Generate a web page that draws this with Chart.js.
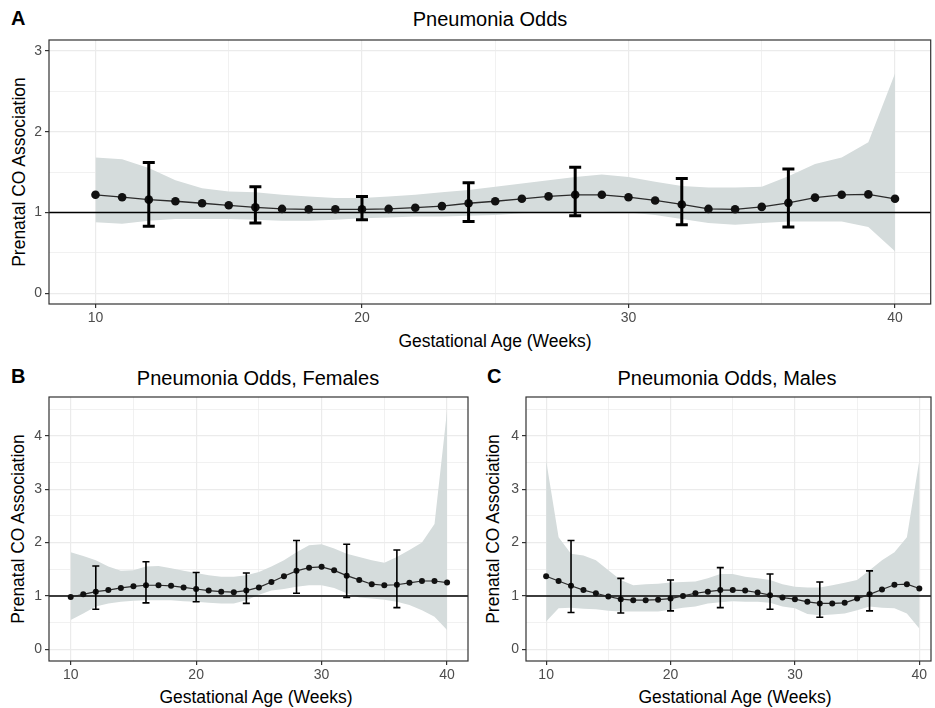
<!DOCTYPE html>
<html>
<head>
<meta charset="utf-8">
<script src="https://cdn.jsdelivr.net/npm/chart.js@4.4.0/dist/chart.umd.min.js"></script>
<style>
body { margin: 0; background: #fff; width: 935px; height: 708px; position: relative; overflow: hidden;
       font-family: "Liberation Sans", Arial, sans-serif; }
.box { position: absolute; }
.txt { position: absolute; white-space: nowrap; color: #000; transform: translate(-50%, -50%); }
.rot { transform: translate(-50%, -50%) rotate(-90deg); }
.lbl { position: absolute; font-weight: bold; font-size: 20px; color: #000; }
</style>
</head>
<body>

<div class="lbl" style="left:11px;top:7px">A</div>
<div class="txt" style="left:490px;top:19px;font-size:20px">Pneumonia Odds</div>
<div class="txt rot" style="left:19px;top:172px;font-size:17.5px">Prenatal CO Association</div>
<div class="txt" style="left:495px;top:341px;font-size:17.5px">Gestational Age (Weeks)</div>
<div class="box" style="left:0;top:0"><canvas id="grafA" width="935" height="360"></canvas></div>

<div class="lbl" style="left:11px;top:365px">B</div>
<div class="txt" style="left:258px;top:378px;font-size:20px">Pneumonia Odds, Females</div>
<div class="txt rot" style="left:18px;top:529px;font-size:17.5px">Prenatal CO Association</div>
<div class="txt" style="left:256px;top:697px;font-size:17.5px">Gestational Age (Weeks)</div>
<div class="box" style="left:0;top:360px"><canvas id="grafB" width="480" height="348"></canvas></div>

<div class="lbl" style="left:487px;top:365px">C</div>
<div class="txt" style="left:727px;top:378px;font-size:20px">Pneumonia Odds, Males</div>
<div class="txt rot" style="left:493px;top:529px;font-size:17.5px">Prenatal CO Association</div>
<div class="txt" style="left:735px;top:697px;font-size:17.5px">Gestational Age (Weeks)</div>
<div class="box" style="left:480px;top:360px"><canvas id="grafC" width="455" height="348"></canvas></div>

<script>
// semanas gestacionais
const semanas = [10,11,12,13,14,15,16,17,18,19,20,21,22,23,24,25,26,27,28,29,30,31,32,33,34,35,36,37,38,39,40];
const semanasErro = [12,16,20,24,28,32,36];

// A - todos
const mediaA = [1.22,1.19,1.16,1.14,1.115,1.09,1.065,1.045,1.04,1.04,1.04,1.045,1.06,1.08,1.115,1.14,1.17,1.2,1.22,1.22,1.19,1.15,1.1,1.045,1.04,1.07,1.12,1.185,1.22,1.225,1.17];
const bandaSupA = [1.68,1.66,1.55,1.40,1.30,1.26,1.25,1.22,1.2,1.18,1.18,1.2,1.22,1.25,1.28,1.32,1.36,1.40,1.44,1.47,1.44,1.38,1.33,1.31,1.31,1.32,1.45,1.6,1.68,1.87,2.72];
const bandaInfA = [0.88,0.86,0.9,0.92,0.92,0.92,0.91,0.9,0.9,0.91,0.93,0.94,0.95,0.95,0.96,0.97,0.99,1.0,1.01,1.01,1.0,0.97,0.92,0.87,0.85,0.87,0.89,0.89,0.89,0.82,0.52];
const erroSupA = [1.62,1.32,1.2,1.37,1.56,1.42,1.54];
const erroInfA = [0.83,0.87,0.91,0.89,0.96,0.85,0.82];

// B - meninas
const mediaB = [0.98,1.03,1.08,1.11,1.15,1.18,1.2,1.2,1.19,1.16,1.13,1.1,1.08,1.07,1.1,1.16,1.26,1.37,1.47,1.53,1.545,1.48,1.38,1.3,1.22,1.2,1.21,1.245,1.28,1.28,1.25];
const bandaSupB = [1.82,1.75,1.67,1.55,1.47,1.48,1.55,1.56,1.52,1.47,1.43,1.39,1.36,1.36,1.39,1.45,1.55,1.67,1.82,1.95,1.97,1.89,1.79,1.73,1.67,1.62,1.73,1.86,2.0,2.35,4.47];
const bandaInfB = [0.55,0.67,0.8,0.86,0.89,0.91,0.92,0.92,0.92,0.9,0.89,0.87,0.86,0.86,0.92,1.02,1.1,1.13,1.17,1.2,1.2,1.15,1.05,0.97,0.95,0.93,0.89,0.83,0.73,0.61,0.36];
const erroSupB = [1.56,1.64,1.44,1.43,2.04,1.97,1.86];
const erroInfB = [0.75,0.87,0.89,0.86,1.05,0.97,0.78];

// C - meninos
const mediaC = [1.37,1.28,1.19,1.11,1.05,0.99,0.94,0.92,0.92,0.93,0.95,1.0,1.05,1.08,1.11,1.11,1.1,1.065,1.015,0.97,0.94,0.89,0.86,0.86,0.87,0.95,1.03,1.12,1.21,1.22,1.14];
const bandaSupC = [3.54,2.1,1.79,1.76,1.67,1.48,1.3,1.2,1.22,1.23,1.25,1.26,1.27,1.33,1.41,1.41,1.36,1.33,1.3,1.22,1.17,1.16,1.16,1.2,1.245,1.3,1.48,1.67,1.82,2.1,3.54];
const bandaInfC = [0.52,0.77,0.78,0.76,0.75,0.72,0.71,0.71,0.71,0.71,0.74,0.78,0.8,0.86,0.88,0.9,0.89,0.89,0.87,0.8,0.77,0.66,0.64,0.65,0.67,0.73,0.8,0.78,0.77,0.67,0.39];
const erroSupC = [2.04,1.33,1.3,1.53,1.41,1.26,1.47];
const erroInfC = [0.69,0.68,0.72,0.78,0.75,0.6,0.72];

// eixos
const ticksX = [10,15,20,25,30,35,40];
const ticksXMaior = [10,20,30,40];
const ticksYA = [0,0.5,1,1.5,2,2.5,3];
const ticksYBC = [0,0.5,1,1.5,2,2.5,3,3.5,4,4.5];
const linhaReferencia = 1;

Chart.defaults.font.family = '"Liberation Sans", Arial, sans-serif';
Chart.defaults.animation = false;

function pontos(ys) {
    return semanas.map((s, i) => ({ x: s, y: ys[i] }));
}

// linha horizontal em 1, desenhada logo depois da faixa
const pluginReferencia = {
    id: 'referencia',
    afterDatasetDraw(chart, args) {
        if (args.index !== 1) return;
        const { ctx, chartArea, scales } = chart;
        const py = scales.y.getPixelForValue(linhaReferencia);
        ctx.save();
        ctx.strokeStyle = '#000';
        ctx.lineWidth = 1.4;
        ctx.beginPath();
        ctx.moveTo(chartArea.left, py);
        ctx.lineTo(chartArea.right, py);
        ctx.stroke();
        ctx.restore();
    }
};

const pluginErro = {
    id: 'barrasErro',
    afterDatasetsDraw(chart, args, opts) {
        const { ctx, scales } = chart;
        ctx.save();
        ctx.strokeStyle = '#000';
        ctx.lineWidth = opts.largura;
        ctx.lineCap = 'butt';
        semanasErro.forEach((s, i) => {
            const px = scales.x.getPixelForValue(s);
            const topo = scales.y.getPixelForValue(opts.sup[i]);
            const base = scales.y.getPixelForValue(opts.inf[i]);
            const m = opts.cap / 2;
            ctx.beginPath();
            ctx.moveTo(px, topo); ctx.lineTo(px, base);
            ctx.moveTo(px - m, topo); ctx.lineTo(px + m, topo);
            ctx.moveTo(px - m, base); ctx.lineTo(px + m, base);
            ctx.stroke();
        });
        ctx.restore();
    }
};

const pluginMoldura = {
    id: 'moldura',
    afterDatasetsDraw(chart) {
        const { ctx, chartArea } = chart;
        ctx.save();
        ctx.strokeStyle = '#333333';
        ctx.lineWidth = 1.2;
        ctx.strokeRect(chartArea.left, chartArea.top, chartArea.right - chartArea.left, chartArea.bottom - chartArea.top);
        ctx.restore();
    }
};

function criaGrafico(id, c) {
    const ctx = document.getElementById(id).getContext('2d');
    return new Chart(ctx, {
        type: 'line',
        data: {
            datasets: [
                { data: pontos(c.inf), borderWidth: 0, pointRadius: 0, fill: false, order: 3 },
                { data: pontos(c.sup), borderWidth: 0, pointRadius: 0, fill: '-1', backgroundColor: '#D5DCDC', order: 2 },
                {
                    data: pontos(c.media),
                    order: 1,
                    borderColor: '#2b2b2b',
                    borderWidth: c.linha,
                    tension: 0,
                    pointRadius: c.raio,
                    pointBackgroundColor: '#111',
                    pointBorderColor: '#111',
                    pointBorderWidth: 0,
                    fill: false
                }
            ]
        },
        options: {
            responsive: false,
            layout: { padding: c.padding },
            plugins: {
                legend: { display: false },
                tooltip: { enabled: false },
                barrasErro: { sup: c.erroSup, inf: c.erroInf, largura: c.erroLarg, cap: c.cap }
            },
            scales: {
                x: {
                    type: 'linear',
                    min: c.xMin, max: c.xMax,
                    afterBuildTicks: s => { s.ticks = ticksX.map(v => ({ value: v })); },
                    afterFit: s => { s.height = c.alturaX; },
                    ticks: {
                        autoSkip: false, maxRotation: 0, padding: 2,
                        color: '#4D4D4D', font: { size: 14 },
                        callback: v => ticksXMaior.includes(v) ? String(v) : ''
                    },
                    grid: {
                        color: '#EBEBEB',
                        lineWidth: k => ticksXMaior.includes(k.tick && k.tick.value) ? 1.2 : 0.7,
                        tickColor: k => ticksXMaior.includes(k.tick && k.tick.value) ? '#333' : 'rgba(0,0,0,0)',
                        tickWidth: 1.2, tickLength: 4
                    },
                    border: { display: false }
                },
                y: {
                    type: 'linear',
                    min: c.yMin, max: c.yMax,
                    afterBuildTicks: s => { s.ticks = c.ticksY.map(v => ({ value: v })); },
                    afterFit: s => { s.width = c.larguraY; },
                    ticks: {
                        autoSkip: false, padding: 3,
                        color: '#4D4D4D', font: { size: 14 },
                        callback: v => Number.isInteger(v) ? String(v) : ''
                    },
                    grid: {
                        color: '#EBEBEB',
                        lineWidth: k => Number.isInteger(k.tick && k.tick.value) ? 1.2 : 0.7,
                        tickColor: k => Number.isInteger(k.tick && k.tick.value) ? '#333' : 'rgba(0,0,0,0)',
                        tickWidth: 1.2, tickLength: 4
                    },
                    border: { display: false }
                }
            }
        },
        plugins: [pluginReferencia, pluginErro, pluginMoldura]
    });
}

criaGrafico('grafA', {
    media: mediaA, sup: bandaSupA, inf: bandaInfA, erroSup: erroSupA, erroInf: erroInfA,
    xMin: 8.256, xMax: 41.34, yMin: -0.132, yMax: 3.136, ticksY: ticksYA,
    padding: { left: 0, top: 40, right: 0, bottom: 0 }, larguraY: 49, alturaX: 56,
    raio: 4.3, linha: 1.3, erroLarg: 3, cap: 12
});

criaGrafico('grafB', {
    media: mediaB, sup: bandaSupB, inf: bandaInfB, erroSup: erroSupB, erroInf: erroInfB,
    xMin: 8.27, xMax: 41.67, yMin: -0.22, yMax: 4.73, ticksY: ticksYBC,
    padding: { left: 0, top: 37, right: 12, bottom: 0 }, larguraY: 49, alturaX: 47,
    raio: 3, linha: 1.2, erroLarg: 1.6, cap: 7
});

criaGrafico('grafC', {
    media: mediaC, sup: bandaSupC, inf: bandaInfC, erroSup: erroSupC, erroInf: erroInfC,
    xMin: 8.38, xMax: 40.94, yMin: -0.22, yMax: 4.73, ticksY: ticksYBC,
    padding: { left: 0, top: 37, right: 0, bottom: 0 }, larguraY: 46, alturaX: 47,
    raio: 3, linha: 1.2, erroLarg: 1.6, cap: 7
});
</script>
</body>
</html>
